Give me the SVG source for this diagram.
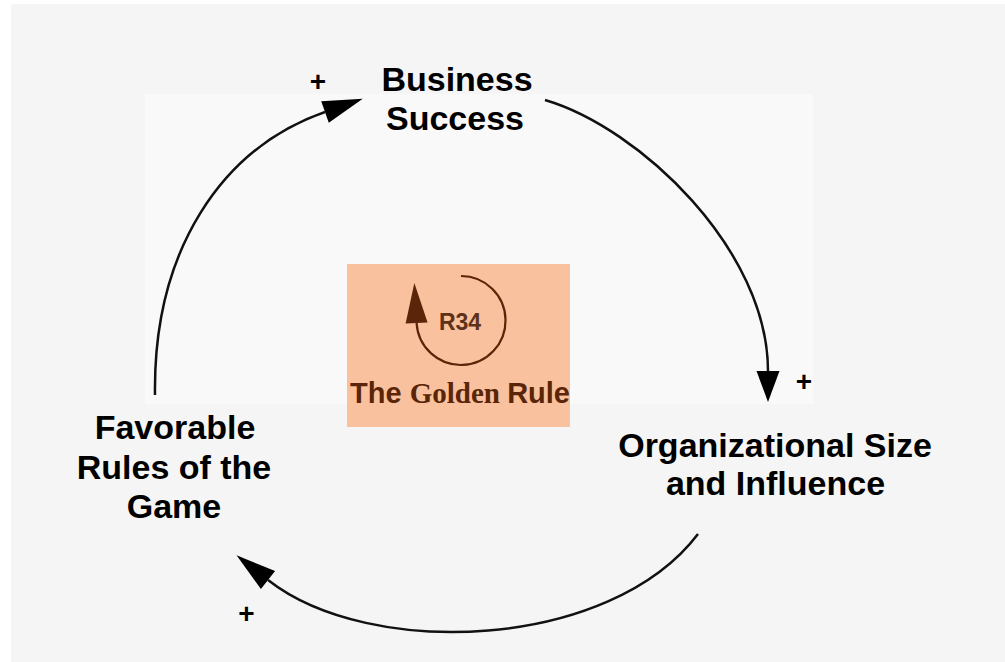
<svg xmlns="http://www.w3.org/2000/svg" width="1005" height="662" viewBox="0 0 1005 662">
  <style>
    .lbl { font-family: "Liberation Sans", Arial, sans-serif; font-weight: bold; font-size: 34px; fill: #000; text-anchor: middle; }
    .pol { font-family: "Liberation Sans", Arial, sans-serif; font-weight: bold; font-size: 28px; fill: #000; text-anchor: middle; }
    .link { fill: none; stroke: #111; stroke-width: 2.5; }
    .loop { fill: none; stroke: #5a2508; stroke-width: 2.2; }
    .gr { font-weight: bold; font-size: 29px; fill: #5a2508; }
  </style>
  <defs>
    <marker id="ah" markerUnits="userSpaceOnUse" markerWidth="42" markerHeight="24" refX="0" refY="11.5" orient="auto" overflow="visible">
      <path d="M0,0 L40,11.5 L0,23 Z" fill="#000"/>
    </marker>
    <marker id="ahs" markerUnits="userSpaceOnUse" markerWidth="33" markerHeight="24" refX="0" refY="11.5" orient="auto" overflow="visible">
      <path d="M0,0 L31,11.5 L0,23 Z" fill="#000"/>
    </marker>
    <marker id="ahb" markerUnits="userSpaceOnUse" markerWidth="42" markerHeight="24" refX="0" refY="11" orient="auto" overflow="visible">
      <path d="M0,0 L40,11 L0,22 Z" fill="#5a2508"/>
    </marker>
  </defs>

  <rect x="0" y="0" width="1005" height="662" fill="#ffffff"/>
  <rect x="11" y="4" width="994" height="658" fill="#f5f5f5"/>
  <rect x="145" y="94" width="668" height="310" fill="#f9f9f9"/>

  <g id="connectors">
    <path class="link" d="M155,395 C153,250 222,148 325,112" marker-end="url(#ah)"/>
    <path class="link" d="M545,100 C640,128 768,250 768,371" marker-end="url(#ahs)"/>
    <path class="link" d="M698,534 C610,650 370,660 268,580" marker-end="url(#ah)"/>
  </g>

  <g id="polarities">
    <text class="pol" x="318" y="91">+</text>
    <text class="pol" x="804" y="391">+</text>
    <text class="pol" x="246.5" y="623">+</text>
  </g>

  <g id="node-business-success">
    <text class="lbl" x="457" y="90.5">Business</text>
    <text class="lbl" x="455" y="130">Success</text>
  </g>

  <g id="node-organizational-size">
    <text class="lbl" x="775" y="456.5">Organizational Size</text>
    <text class="lbl" x="775.5" y="495">and Influence</text>
  </g>

  <g id="node-favorable-rules">
    <text class="lbl" x="175" y="439">Favorable</text>
    <text class="lbl" x="174" y="479">Rules of the</text>
    <text class="lbl" x="174" y="518">Game</text>
  </g>

  <g id="loop-r34">
    <rect x="347" y="264" width="223" height="163" fill="#f9c19d"/>
    <path class="loop" d="M461,276 A44.5,44.5 0 1 1 416.6,323" marker-end="url(#ahb)"/>
    <text x="460" y="329.5" font-family="Liberation Sans, Arial, sans-serif" font-weight="bold" font-size="23" fill="#5e3218" text-anchor="middle">R34</text>
    <text x="460" y="402.5" text-anchor="middle" class="gr"><tspan font-family="Liberation Sans, Arial, sans-serif">The </tspan><tspan font-family="Liberation Serif, Times New Roman, serif">Golden </tspan><tspan font-family="Liberation Sans, Arial, sans-serif">Rule</tspan></text>
  </g>
</svg>
